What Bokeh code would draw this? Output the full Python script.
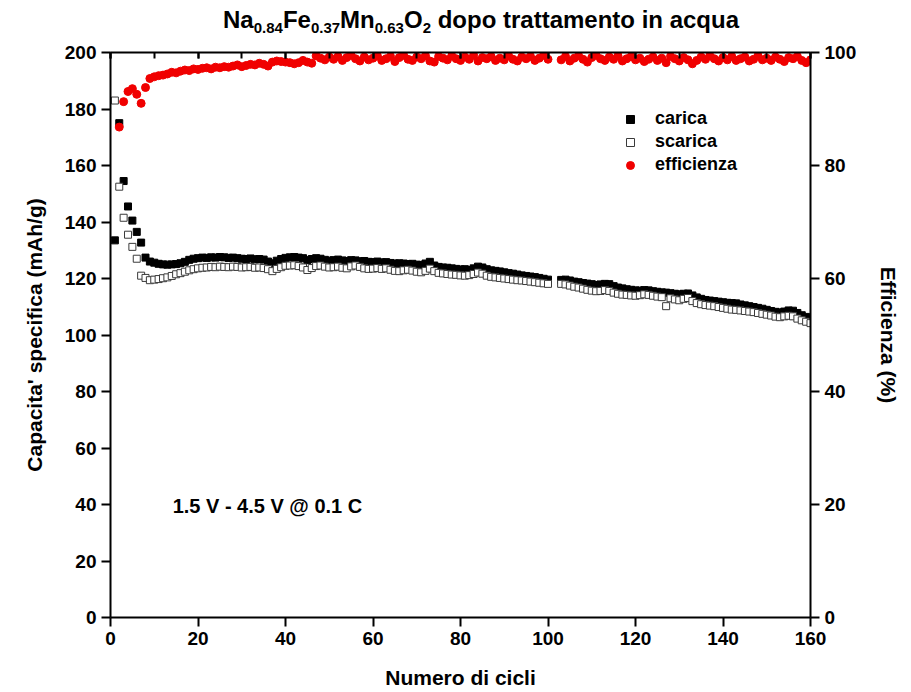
import numpy as np
from bokeh.plotting import figure
from bokeh.layouts import column
from bokeh.models import (Range1d, LinearAxis, SingleIntervalTicker, Label,
                          Legend, LegendItem, ColumnDataSource, Div)
from bokeh.embed import file_html
from bokeh.resources import INLINE

nan = np.nan

cycles = list(range(1, 161))

carica = [
    133.5, 175.0, 154.5, 145.5, 140.5, 136.5, 132.7, 127.4, 126.0, 125.6,
    125.2, 125.0, 124.9, 125.0, 125.1, 125.4, 125.9, 126.6, 127.0, 127.2,
    127.4, 127.3, 127.5, 127.4, 127.6, 127.5, 127.3, 127.4, 127.2, 127.0,
    126.9, 127.1, 126.8, 126.9, 126.7, 126.0, 125.4, 126.3, 126.9, 127.3,
    127.5, 127.6, 127.4, 127.2, 126.5, 126.9, 127.2, 127.0, 126.6, 126.3,
    126.5, 126.7, 126.4, 126.2, 126.5, 126.4, 126.1, 126.2, 125.9, 125.8,
    126.0, 125.7, 125.8, 125.5, 125.3, 125.4, 125.3, 125.1, 125.2, 124.9,
    124.8, 125.3, 125.9, 124.6, 124.1, 123.9, 123.8, 123.6, 123.4, 123.2,
    123.3, 123.0, 123.6, 124.2, 123.9, 123.3, 122.9, 122.7, 122.5, 122.2,
    121.9, 121.7, 121.4, 121.1, 120.9, 120.7, 120.5, 120.2, 119.9, 119.6,
    nan, nan, 119.5, 119.6, 119.3, 118.9, 118.7, 118.4, 118.2, 118.0,
    117.7, 117.9, 118.1, 118.0, 117.3, 116.8, 116.5, 116.2, 116.0, 115.8,
    115.7, 115.9, 115.8, 115.5, 115.3, 115.1, 115.0, 114.8, 114.6, 114.4,
    114.6, 114.7, 114.0, 113.3, 112.8, 112.4, 112.2, 112.0, 111.8, 111.6,
    111.4, 111.3, 111.2, 110.8, 110.5, 110.2, 109.9, 109.6, 109.3, 108.9,
    108.5, 108.2, 108.0, 108.3, 108.7, 108.6, 107.8, 107.0, 106.4, 105.8,
]

scarica = [
    183.0, 152.5, 141.5, 135.5, 131.2, 127.0, 121.0, 120.2, 119.4, 119.6,
    119.8, 120.1, 120.4, 120.9, 121.5, 121.9, 122.4, 122.9, 123.3, 123.6,
    123.8, 123.9, 124.1, 124.0, 124.2, 124.1, 124.0, 124.2, 124.1, 123.9,
    124.0, 124.1, 123.8, 123.9, 123.7, 123.3, 122.6, 123.4, 124.0, 124.5,
    124.6, 124.7, 124.4, 123.9, 123.0, 123.7, 124.4, 124.6, 124.2, 123.9,
    124.0, 124.2, 123.8, 123.6, 124.3, 124.6, 124.1, 123.6, 123.4, 123.5,
    123.7, 123.4, 123.6, 123.1, 122.7, 122.6, 122.9, 123.1, 122.8, 122.4,
    122.2, 122.7, 123.5, 122.6, 122.0, 121.8, 121.6, 121.4, 121.3, 121.1,
    121.0, 121.2, 121.6, 122.1, 121.7, 121.0, 120.6, 120.4, 120.2, 120.0,
    119.8, 119.6, 119.4, 119.3, 119.1, 118.9, 118.7, 118.5, 118.3, 118.1,
    nan, nan, 118.1, 117.9, 117.5, 117.1, 116.8, 116.4, 116.0, 115.7,
    115.5, 115.6, 115.9, 115.6, 115.0, 114.6, 114.3, 114.2, 114.0, 113.9,
    114.1, 114.4, 114.2, 113.9, 113.6, 113.4, 110.2, 113.0, 112.6, 112.3,
    112.8, 113.1, 112.0, 111.3, 110.9, 110.6, 110.4, 110.2, 109.9, 109.6,
    109.3, 109.0, 108.9, 108.7, 108.5, 108.3, 108.1, 107.8, 107.5, 107.2,
    106.9, 106.5, 106.3, 106.6, 106.8, 106.6, 105.8, 105.2, 104.7, 104.2,
]

efficienza = [
    nan, 86.8, 91.3, 93.1, 93.6, 92.6, 91.0, 93.8, 95.4, 95.7,
    95.9, 96.0, 96.2, 96.5, 96.4, 96.7, 96.9, 96.8, 97.1, 97.0,
    97.2, 97.3, 97.1, 97.4, 97.3, 97.5, 97.4, 97.6, 97.8, 97.5,
    97.7, 97.9, 97.8, 98.1, 97.9, 97.6, 98.3, 98.5, 98.4, 98.3,
    98.2, 98.0, 98.2, 98.6, 98.3, 98.1, 99.4, 99.0, 98.7, 99.2,
    98.8, 99.3, 98.6, 99.1, 99.5, 98.9, 98.5, 99.2, 98.7, 99.0,
    99.4, 98.6, 98.9, 99.3, 98.4, 99.1, 99.5, 98.8, 98.6, 99.2,
    98.9, 99.4, 98.5, 98.3, 99.3, 99.0, 98.7, 99.4, 98.9, 98.6,
    99.2, 98.8, 99.5, 98.5, 99.1, 98.9, 99.3, 98.6, 99.0, 98.7,
    99.4, 98.8, 98.5, 99.2, 98.9, 99.3, 98.6, 99.0, 99.5, 98.8,
    nan, nan, 98.7, 99.3, 98.5, 99.0, 99.4, 98.8, 98.3, 99.1,
    99.5, 98.9, 98.6, 99.2, 98.8, 99.4, 98.5, 98.9, 99.3, 98.7,
    99.0, 98.4, 98.8, 99.2, 98.6, 99.0, 98.2, 99.3, 98.9, 98.5,
    99.1, 98.7, 98.0, 98.6, 99.2, 98.8, 99.4, 98.9, 98.5, 99.1,
    98.7, 99.3, 98.6, 98.9, 99.2, 98.5, 98.8, 99.4, 98.7, 99.0,
    98.6, 99.2, 98.8, 98.4, 99.1, 98.9, 99.3, 98.6, 98.2, 98.7,
]

FONT = "Liberation Sans"
TITLE_H = 40

src = ColumnDataSource(dict(x=cycles, c=np.array(carica), s=np.array(scarica),
                            e=np.array(efficienza)))

p = figure(width=911, height=692 - TITLE_H, x_range=Range1d(0, 160),
           y_range=Range1d(0, 200),
           output_backend="svg", toolbar_location=None,
           min_border_left=110, min_border_right=101, min_border_top=52 - TITLE_H,
           min_border_bottom=75, margin=(0, 0, 0, 0))
p.extra_y_ranges = {"eff": Range1d(0, 100)}
p.grid.visible = False
p.outline_line_color = None
p.background_fill_color = "white"
p.border_fill_color = "white"

def style_axis(ax, tick_out=9, tick_in=0):
    ax.axis_line_width = 2
    ax.axis_line_color = "black"
    ax.major_tick_line_width = 2
    ax.major_tick_line_color = "black"
    ax.major_tick_out = tick_out
    ax.major_tick_in = tick_in
    ax.minor_tick_line_color = None
    ax.major_label_text_font = FONT
    ax.major_label_text_font_style = "bold"
    ax.major_label_text_font_size = "19px"
    ax.major_label_text_color = "black"
    ax.major_label_standoff = 5
    ax.axis_label_text_font = FONT
    ax.axis_label_text_font_style = "bold"
    ax.axis_label_text_font_size = "21px"
    ax.axis_label_text_color = "black"

xa = p.xaxis[0]
xa.ticker = SingleIntervalTicker(interval=20, num_minor_ticks=0)
style_axis(xa)
xa.axis_label = "Numero di cicli"
xa.axis_label_standoff = 18

ya = p.yaxis[0]
ya.ticker = SingleIntervalTicker(interval=20, num_minor_ticks=0)
style_axis(ya)
ya.axis_label = "Capacita' specifica (mAh/g)"
ya.axis_label_standoff = 16

ra = LinearAxis(y_range_name="eff", ticker=SingleIntervalTicker(interval=20, num_minor_ticks=0))
style_axis(ra)
ra.axis_label = "Efficienza (%)"
ra.axis_label_standoff = 18
ra.axis_label_orientation = "vertical"
p.add_layout(ra, "right")

ta = LinearAxis(ticker=SingleIntervalTicker(interval=20, num_minor_ticks=2))
style_axis(ta, tick_out=0, tick_in=6)
ta.minor_tick_line_color = "black"
ta.minor_tick_line_width = 2
ta.minor_tick_in = 6
ta.minor_tick_out = 0
ta.major_label_text_font_size = "0px"
ta.major_label_text_color = None
ta.major_label_standoff = 0
p.add_layout(ta, "above")

r_c = p.scatter("x", "c", source=src, marker="square", size=7,
                fill_color="black", line_color="black", line_width=1)
r_s = p.scatter("x", "s", source=src, marker="square", size=7,
                fill_color="white", line_color="#3a3a3a", line_width=1)
r_e = p.scatter("x", "e", source=src, marker="circle", size=8,
                fill_color="#f00000", line_color="#f00000", y_range_name="eff")

legend = Legend(items=[LegendItem(label="carica", renderers=[r_c]),
                       LegendItem(label="scarica", renderers=[r_s]),
                       LegendItem(label="efficienza", renderers=[r_e])],
                location=(510, 442))
legend.label_text_font = FONT
legend.label_text_font_style = "bold"
legend.label_text_font_size = "18px"
legend.label_text_color = "black"
legend.glyph_width = 20
legend.glyph_height = 20
legend.label_height = 20
legend.spacing = 2
legend.padding = 0
legend.margin = 0
legend.label_standoff = 15
legend.border_line_color = None
legend.background_fill_alpha = 0
p.add_layout(legend)

p.add_layout(Label(x=14.2, y=39.3, text="1.5 V - 4.5 V @ 0.1 C", text_font=FONT,
                   text_font_style="bold", text_font_size="20px", text_color="black",
                   text_baseline="middle", text_align="left"))

sub = '<span style="font-size:15px;vertical-align:-5px;line-height:0">{}</span>'
title_html = (
    '<div style="width:911px;height:{h}px;box-sizing:border-box;padding-left:51px;'
    'text-align:center;font-family:\'Liberation Sans\';font-weight:bold;'
    'font-size:24px;line-height:{h}px;color:black;white-space:nowrap;">'
    'Na{a}Fe{b}Mn{c}O{d} dopo trattamento in acqua</div>'
).format(h=TITLE_H, a=sub.format("0.84"), b=sub.format("0.37"),
         c=sub.format("0.63"), d=sub.format("2"))
title = Div(text=title_html, width=911, height=TITLE_H, margin=(0, 0, 0, 0))

layout = column(title, p, spacing=0, margin=(0, 0, 0, 0))
open("out.html", "w").write(file_html(layout, INLINE))
